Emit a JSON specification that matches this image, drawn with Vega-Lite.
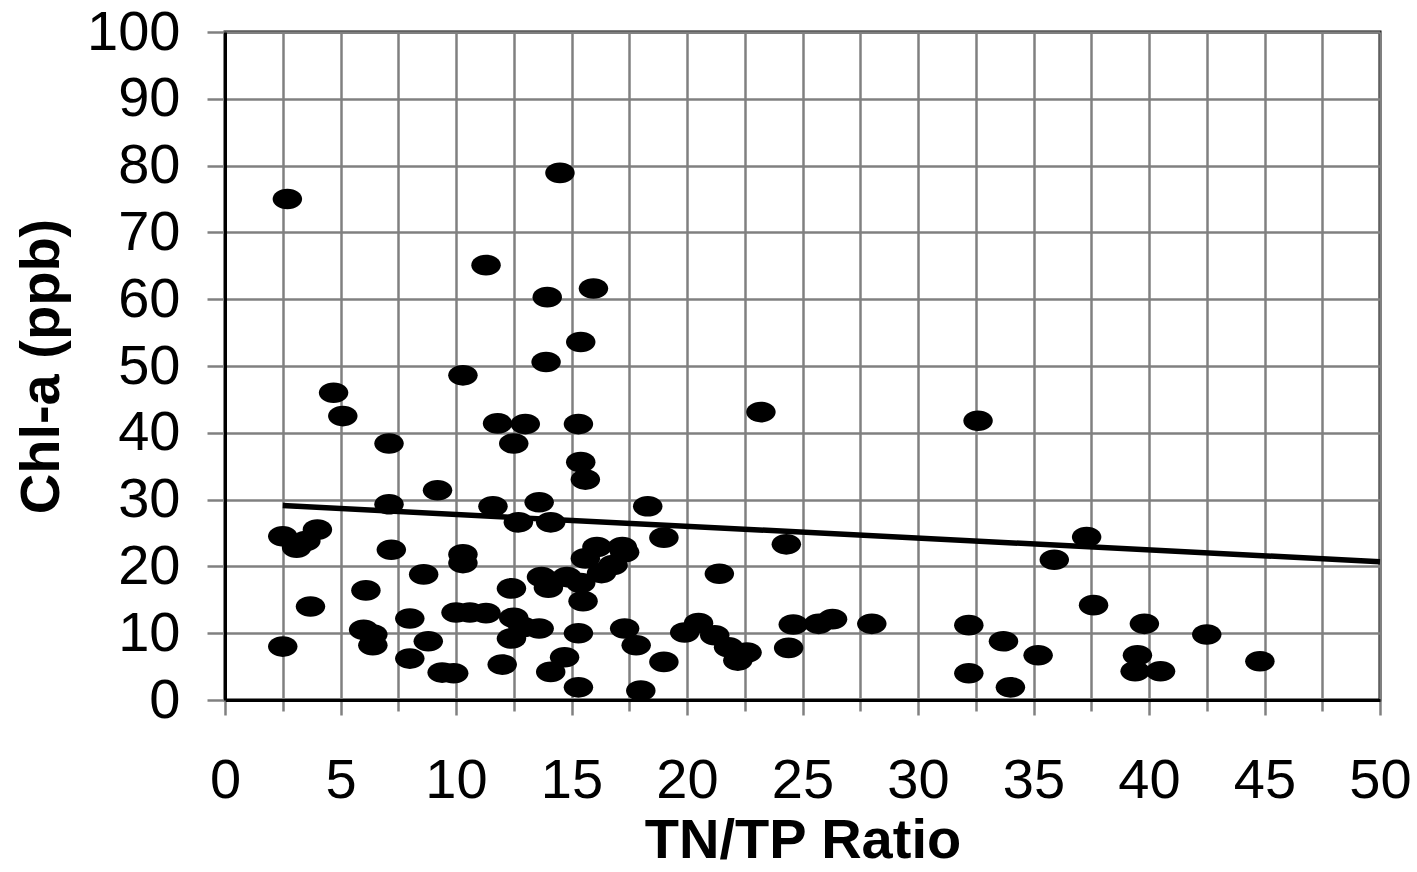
{
  "$schema": "https://vega.github.io/schema/vega-lite/v6.json",
  "width": 1155,
  "height": 668,
  "autosize": {"type": "none"},
  "padding": {"left": 225, "top": 32, "right": 37, "bottom": 172},
  "background": "white",
  "config": {
    "view": {"stroke": "black", "strokeWidth": 3},
    "font": "Liberation Sans",
    "axis": {
      "gridColor": "#808080",
      "gridWidth": 2.5,
      "gridOpacity": 1,
      "tickColor": "#808080",
      "tickWidth": 2.5,
      "domainColor": "black",
      "domainWidth": 3,
      "labelFont": "Liberation Sans",
      "labelFontSize": 56,
      "labelColor": "black",
      "titleFont": "Liberation Sans",
      "titleFontSize": 56,
      "titleFontWeight": "bold",
      "titleColor": "black"
    }
  },
  "datasets": {
    "pts": [
      {"ratio": 2.7, "chla": 75.0}, {"ratio": 2.5, "chla": 24.5}, {"ratio": 2.5, "chla": 8.0},
      {"ratio": 3.1, "chla": 22.8}, {"ratio": 3.5, "chla": 23.8}, {"ratio": 4.0, "chla": 25.5},
      {"ratio": 3.7, "chla": 14.0}, {"ratio": 4.7, "chla": 46.0}, {"ratio": 5.1, "chla": 42.5},
      {"ratio": 7.1, "chla": 38.4}, {"ratio": 7.1, "chla": 29.3}, {"ratio": 7.2, "chla": 22.5},
      {"ratio": 6.1, "chla": 16.4}, {"ratio": 6.0, "chla": 10.5}, {"ratio": 6.4, "chla": 9.8},
      {"ratio": 6.4, "chla": 8.2}, {"ratio": 8.0, "chla": 12.2}, {"ratio": 8.0, "chla": 6.2},
      {"ratio": 8.6, "chla": 18.8}, {"ratio": 8.8, "chla": 8.8}, {"ratio": 9.2, "chla": 31.4},
      {"ratio": 9.4, "chla": 4.1}, {"ratio": 9.9, "chla": 4.0}, {"ratio": 10.3, "chla": 48.6},
      {"ratio": 10.3, "chla": 21.8}, {"ratio": 10.3, "chla": 20.5}, {"ratio": 10.0, "chla": 13.1},
      {"ratio": 10.6, "chla": 13.1}, {"ratio": 11.3, "chla": 13.0}, {"ratio": 11.3, "chla": 65.1},
      {"ratio": 11.8, "chla": 41.4}, {"ratio": 11.6, "chla": 29.0}, {"ratio": 12.5, "chla": 38.4},
      {"ratio": 13.0, "chla": 41.3}, {"ratio": 12.7, "chla": 26.6}, {"ratio": 12.4, "chla": 16.7},
      {"ratio": 12.5, "chla": 12.3}, {"ratio": 12.4, "chla": 9.2}, {"ratio": 12.9, "chla": 10.9},
      {"ratio": 13.6, "chla": 10.7}, {"ratio": 12.0, "chla": 5.3}, {"ratio": 13.6, "chla": 29.6},
      {"ratio": 14.1, "chla": 26.6}, {"ratio": 13.9, "chla": 50.6}, {"ratio": 13.95, "chla": 60.3},
      {"ratio": 14.5, "chla": 78.9}, {"ratio": 15.4, "chla": 53.6}, {"ratio": 15.3, "chla": 41.3},
      {"ratio": 15.4, "chla": 35.6}, {"ratio": 15.6, "chla": 33.0}, {"ratio": 13.7, "chla": 18.4},
      {"ratio": 14.8, "chla": 18.4}, {"ratio": 14.0, "chla": 16.8}, {"ratio": 15.4, "chla": 17.5},
      {"ratio": 15.5, "chla": 14.8}, {"ratio": 15.3, "chla": 10.0}, {"ratio": 14.7, "chla": 6.4},
      {"ratio": 14.1, "chla": 4.2}, {"ratio": 15.3, "chla": 1.9}, {"ratio": 16.1, "chla": 22.9},
      {"ratio": 17.2, "chla": 22.9}, {"ratio": 15.6, "chla": 21.2}, {"ratio": 16.8, "chla": 20.2},
      {"ratio": 16.3, "chla": 19.0}, {"ratio": 17.3, "chla": 22.1}, {"ratio": 15.95, "chla": 61.6},
      {"ratio": 18.3, "chla": 29.0}, {"ratio": 19.0, "chla": 24.3}, {"ratio": 17.3, "chla": 10.7},
      {"ratio": 17.8, "chla": 8.2}, {"ratio": 19.0, "chla": 5.7}, {"ratio": 18.0, "chla": 1.4},
      {"ratio": 19.9, "chla": 10.1}, {"ratio": 20.5, "chla": 11.5}, {"ratio": 21.2, "chla": 9.7},
      {"ratio": 21.8, "chla": 7.9}, {"ratio": 22.2, "chla": 5.9}, {"ratio": 22.6, "chla": 7.1},
      {"ratio": 21.4, "chla": 18.9}, {"ratio": 23.2, "chla": 43.1}, {"ratio": 24.3, "chla": 23.3},
      {"ratio": 24.6, "chla": 11.3}, {"ratio": 24.4, "chla": 7.8}, {"ratio": 25.7, "chla": 11.4},
      {"ratio": 26.3, "chla": 12.1}, {"ratio": 28.0, "chla": 11.4}, {"ratio": 32.2, "chla": 11.2},
      {"ratio": 32.2, "chla": 4.0}, {"ratio": 32.6, "chla": 41.8}, {"ratio": 33.7, "chla": 8.8},
      {"ratio": 34.0, "chla": 1.9}, {"ratio": 35.2, "chla": 6.7}, {"ratio": 35.9, "chla": 21.0},
      {"ratio": 37.3, "chla": 24.4}, {"ratio": 37.6, "chla": 14.2}, {"ratio": 39.8, "chla": 11.4},
      {"ratio": 39.5, "chla": 6.7}, {"ratio": 39.4, "chla": 4.3}, {"ratio": 40.5, "chla": 4.3},
      {"ratio": 42.5, "chla": 9.8}, {"ratio": 44.8, "chla": 5.8}
    ],
    "trend": [
      {"ratio": 2.5, "chla": 29.1},
      {"ratio": 50, "chla": 20.7}
    ]
  },
  "layer": [
    {
      "data": {"name": "pts"},
      "mark": {
        "type": "point",
        "shape": "M-1,0 A1,0.7 0 1,0 1,0 A1,0.7 0 1,0 -1,0 Z",
        "size": 870,
        "filled": true,
        "color": "black",
        "opacity": 1
      },
      "encoding": {
        "x": {
          "field": "ratio",
          "type": "quantitative",
          "scale": {"domain": [0, 50], "nice": false, "zero": false},
          "axis": {
            "title": "TN/TP Ratio",
            "values": [0, 2.5, 5, 7.5, 10, 12.5, 15, 17.5, 20, 22.5, 25, 27.5, 30, 32.5, 35, 37.5, 40, 42.5, 45, 47.5, 50],
            "labelExpr": "datum.value % 5 === 0 ? datum.label : ''",
            "tickSize": {"condition": {"test": "datum.value % 5 === 0", "value": 15}, "value": 11},
            "labelPadding": 38,
            "titlePadding": 5,
            "labelFlush": false,
            "labelOverlap": false
          }
        },
        "y": {
          "field": "chla",
          "type": "quantitative",
          "scale": {"domain": [0, 100], "nice": false, "zero": false},
          "axis": {
            "title": "Chl-a (ppb)",
            "values": [0, 5, 10, 15, 20, 25, 30, 35, 40, 45, 50, 55, 60, 65, 70, 75, 80, 85, 90, 95, 100],
            "labelExpr": "datum.value % 10 === 0 ? datum.label : ''",
            "tickSize": {"condition": {"test": "datum.value % 10 === 0", "value": 18}, "value": 12},
            "labelPadding": 27,
            "titlePadding": 16,
            "labelFlush": false,
            "labelOverlap": false
          }
        }
      }
    },
    {
      "data": {"name": "trend"},
      "mark": {"type": "line", "color": "black", "strokeWidth": 5.5},
      "encoding": {
        "x": {"field": "ratio", "type": "quantitative"},
        "y": {"field": "chla", "type": "quantitative"}
      }
    }
  ]
}
